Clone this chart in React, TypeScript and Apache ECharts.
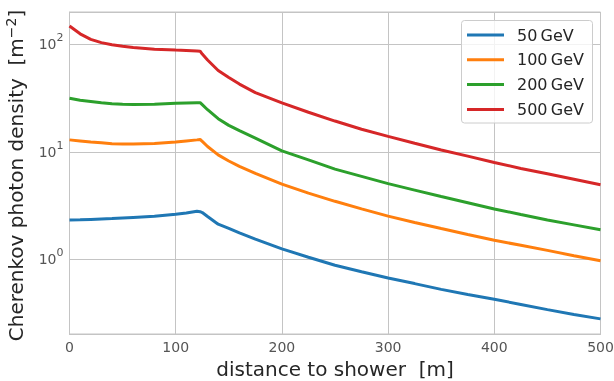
import React, { useEffect, useRef } from "react";
import * as echarts from "echarts";

const distances = [0, 10, 20, 30, 40, 50, 60, 80, 100, 110, 120, 123, 125, 130, 140, 150, 160, 175, 200, 225, 250, 275, 300, 325, 350, 375, 400, 425, 450, 475, 500];

const density50 = [2.32, 2.33, 2.35, 2.37, 2.39, 2.42, 2.45, 2.51, 2.62, 2.7, 2.8, 2.77, 2.72, 2.5, 2.12, 1.94, 1.76, 1.54, 1.25, 1.045, 0.88, 0.765, 0.67, 0.594, 0.525, 0.47, 0.425, 0.38, 0.34, 0.307, 0.279];
const density100 = [12.9, 12.6, 12.3, 12.1, 11.9, 11.8, 11.8, 11.95, 12.3, 12.6, 12.9, 13.0, 12.5, 11.2, 9.35, 8.2, 7.3, 6.3, 5.0, 4.12, 3.46, 2.94, 2.52, 2.2, 1.93, 1.7, 1.5, 1.35, 1.21, 1.08, 0.97];
const density200 = [31.5, 30.2, 29.4, 28.6, 28.0, 27.7, 27.5, 27.6, 28.2, 28.4, 28.6, 28.6, 27.4, 24.6, 20.3, 17.6, 15.7, 13.4, 10.2, 8.4, 6.9, 5.9, 5.05, 4.4, 3.83, 3.36, 2.94, 2.61, 2.32, 2.09, 1.88];
const density500 = [148, 125, 111, 103.5, 99, 96, 93.5, 90, 88.3, 87.5, 86.6, 86.3, 81, 71.4, 57, 49, 42.6, 35.5, 28.5, 23.3, 19.3, 16.2, 13.9, 12.0, 10.4, 9.1, 7.95, 7.0, 6.25, 5.55, 4.93];

const seriesNames = ["50\u2009GeV", "100\u2009GeV", "200\u2009GeV", "500\u2009GeV"];
const seriesColors = ["#1f77b4", "#ff7f0e", "#2ca02c", "#d62728"];
const seriesValues = [density50, density100, density200, density500];

const xTicks = [0, 100, 200, 300, 400, 500];

const FONT = "DejaVu Sans";

export default function App() {
  const ref = useRef<HTMLDivElement>(null);
  useEffect(() => {
    if (!ref.current) return;
    const chart = echarts.init(ref.current, undefined, { renderer: "svg" });
    const gridColor = "#c4c4c4";
    chart.setOption({
      animation: false,
      textStyle: { fontFamily: FONT },
      grid: {
        left: 69.5,
        right: 13.5,
        top: 12,
        bottom: 47,
        outerBoundsMode: "none",
        containLabel: false,
        show: true,
        borderColor: gridColor,
        borderWidth: 1,
        backgroundColor: "transparent",
      },
      graphic: [
        {
          type: "rect",
          z: 3,
          silent: true,
          shape: { x: 461.5, y: 20.5, width: 131, height: 102.5, r: 3 },
          style: { fill: "rgba(255,255,255,0.8)", stroke: "#cccccc", lineWidth: 1 },
        },
      ],
      legend: {
        orient: "vertical",
        left: 462,
        top: 21,
        z: 5,
        padding: [4, 9, 4, 5],
        itemGap: 4.8,
        itemWidth: 45,
        itemHeight: 3,
        icon: "path://M0,0H37V3H0Z M45,0L45,3",
        backgroundColor: "transparent",
        borderWidth: 0,
        data: seriesNames,
        textStyle: {
          fontFamily: FONT,
          fontSize: 16,
          color: "#262626",
          lineHeight: 20,
        },
      },
      xAxis: {
        type: "value",
        min: xTicks[0],
        max: xTicks[xTicks.length - 1],
        interval: 100,
        name: "distance to shower  [m]",
        nameLocation: "middle",
        nameGap: 22,
        nameTextStyle: { fontFamily: FONT, fontSize: 20, color: "#262626" },
        axisLine: { show: true, lineStyle: { color: gridColor, width: 1 } },
        axisTick: { show: false },
        axisLabel: { fontFamily: FONT, fontSize: 14, color: "#555555", margin: 6 },
        splitLine: { show: true, lineStyle: { color: gridColor, width: 1 } },
      },
      yAxis: {
        type: "log",
        logBase: 10,
        min: 0.2018,
        max: 199.5,
        name: "Cherenkov photon density  [m{s|\u22122}]",
        nameLocation: "middle",
        nameGap: 30,
        nameTextStyle: {
          fontFamily: FONT,
          fontSize: 20,
          color: "#262626",
          lineHeight: 24,
          padding: [0, 5, 0, 0],
          rich: {
            s: { fontFamily: FONT, fontSize: 14, lineHeight: 14, verticalAlign: "top", color: "#262626" },
          },
        },
        axisLine: { show: true, lineStyle: { color: gridColor, width: 1 } },
        axisTick: { show: false },
        minorTick: { show: false },
        axisLabel: {
          fontFamily: FONT,
          color: "#555555",
          margin: 6,
          showMinLabel: false,
          showMaxLabel: false,
          formatter: (v: number) => {
            const e = Math.log10(v);
            if (Math.abs(e - Math.round(e)) > 1e-6) return "";
            return `{b|10}{s|${Math.round(e)}}`;
          },
          rich: {
            b: { fontFamily: FONT, fontSize: 14, lineHeight: 24, color: "#555555" },
            s: { fontFamily: FONT, fontSize: 11, lineHeight: 11, verticalAlign: "top", color: "#555555" },
          },
        },
        splitLine: { show: true, lineStyle: { color: gridColor, width: 1 } },
      },
      series: seriesNames.map((name, i) => ({
        name,
        type: "line",
        showSymbol: false,
        symbol: "none",
        color: seriesColors[i],
        lineStyle: { width: 3, color: seriesColors[i] },
        data: distances.map((d, j) => [d, seriesValues[i][j]]),
      })),
    });
    return () => chart.dispose();
  }, []);
  return <div ref={ref} style={{ position: "fixed", left: 0, top: 0, width: 614, height: 381 }} />;
}
